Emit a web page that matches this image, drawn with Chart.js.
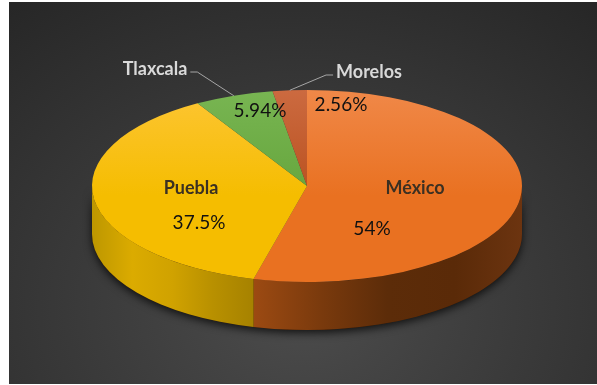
<!DOCTYPE html>
<html>
<head>
<meta charset="utf-8">
<script src="https://cdn.jsdelivr.net/npm/chart.js@4.4.0/dist/chart.umd.min.js"></script>
<style>
  html, body { margin: 0; padding: 0; background: #fff; }
  #panel {
    position: absolute; left: 9px; top: 2px; width: 588px; height: 382px;
    background: radial-gradient(ellipse 80% 100% at 50% 80%, #4c4c4c 0%, #3b3b3b 45%, #272727 100%);
  }
  #wrap { position: absolute; left: 0; top: 0; width: 597px; height: 385px; }
</style>
</head>
<body>
<div id="panel"></div>
<div id="wrap"><canvas id="estadosPie" width="597" height="385"></canvas></div>
<script>
const estados = ['México', 'Puebla', 'Tlaxcala', 'Morelos'];
const porcentajes = [54, 37.5, 5.94, 2.56];

// colores de la cara superior (claro arriba, base abajo)
const coloresClaros = ['#f08848', '#fdc534', '#78b552', '#cc6a40'];
const coloresBase = ['#e97121', '#f5bd00', '#66a63d', '#b9511f'];
// colores del costado, de izquierda a derecha
const costados = [
    ['#9c4a12', '#7a3a0d', '#5c2c09', '#5a2a08', '#6c3410'],
    ['#bd9700', '#dbab00', '#d0a200', '#b89000', '#a68200']
];

const RADIO = 215;
const ESCALA_Y = 96 / 215;
const PROFUNDIDAD = 48;

function geometria(chart) {
    const arc = chart.getDatasetMeta(0).data[0];
    return { cx: arc.x, cy: arc.y, rx: arc.outerRadius, ry: arc.outerRadius * ESCALA_Y };
}

const pie3d = {
    id: 'pie3d',
    beforeDatasetsDraw(chart) {
        const ctx = chart.ctx;
        const meta = chart.getDatasetMeta(0);
        const { cx, cy, rx, ry } = geometria(chart);
        const D = PROFUNDIDAD;

        const pared = (a1, a2) => {
            ctx.beginPath();
            ctx.ellipse(cx, cy, rx, ry, 0, a1, a2);
            ctx.lineTo(cx + rx * Math.cos(a2), cy + ry * Math.sin(a2) + D);
            ctx.ellipse(cx, cy + D, rx, ry, 0, a2, a1, true);
            ctx.closePath();
        };

        // sombra bajo el pastel
        ctx.save();
        ctx.shadowColor = 'rgba(0,0,0,0.75)';
        ctx.shadowBlur = 8;
        ctx.shadowOffsetY = 3;
        ctx.fillStyle = '#3a1c06';
        pared(0, Math.PI);
        ctx.fill();
        ctx.restore();

        // costado visible de cada rebanada
        meta.data.forEach((arc, i) => {
            const a1 = Math.max(arc.startAngle, 0);
            const a2 = Math.min(arc.endAngle, Math.PI);
            if (a2 <= a1) return;
            const x1 = cx + rx * Math.cos(a2);
            const x2 = cx + rx * Math.cos(a1);
            const g = ctx.createLinearGradient(x1, 0, x2, 0);
            const stops = costados[i] || [coloresBase[i], coloresBase[i]];
            stops.forEach((c, k) => g.addColorStop(k / (stops.length - 1), c));
            ctx.fillStyle = g;
            pared(a1, a2);
            ctx.fill();
        });

        // cara superior aplastada en elipse
        ctx.save();
        ctx.translate(0, cy);
        ctx.scale(1, ESCALA_Y);
        ctx.translate(0, -cy);
    },
    afterDatasetsDraw(chart) {
        const ctx = chart.ctx;
        ctx.restore();

        const meta = chart.getDatasetMeta(0);
        const { cx, cy, rx, ry } = geometria(chart);
        const borde = (arc) => {
            const a = (arc.startAngle + arc.endAngle) / 2;
            return [cx + rx * Math.cos(a), cy + ry * Math.sin(a)];
        };

        // posiciones de las etiquetas respecto al centro
        const posiciones = [
            { nombre: [108, 2], valor: [65, 43], dentro: true },
            { nombre: [-116, 2], valor: [-108, 37], dentro: true },
            { nombre: [-152, -117], valor: [-47, -75], dentro: false },
            { nombre: [62, -114], valor: [34, -81], dentro: false }
        ];

        ctx.save();
        ctx.textAlign = 'center';
        ctx.textBaseline = 'middle';
        estados.forEach((estado, i) => {
            const p = posiciones[i];
            const nx = cx + p.nombre[0], ny = cy + p.nombre[1];
            ctx.font = 'bold 18px Lato';
            ctx.fillStyle = p.dentro ? '#3b3022' : '#d9d9d9';
            ctx.fillText(estado, nx, ny);

            if (!p.dentro) {
                const w = ctx.measureText(estado).width / 2;
                const [ex, ey] = borde(meta.data[i]);
                const lado = ex > nx ? 1 : -1;
                const sx = nx + lado * (w + 3);
                ctx.strokeStyle = '#a6a6a6';
                ctx.lineWidth = 1;
                ctx.beginPath();
                ctx.moveTo(sx, ny + 3);
                ctx.lineTo(sx + lado * 7, ny + 3);
                ctx.lineTo(ex, ey);
                ctx.stroke();
            }

            ctx.font = '19px Lato';
            ctx.fillStyle = '#111';
            ctx.fillText(porcentajes[i] + '%', cx + p.valor[0], cy + p.valor[1]);
        });
        ctx.restore();
    }
};

const ctxEstados = document.getElementById('estadosPie').getContext('2d');
new Chart(ctxEstados, {
    type: 'pie',
    data: {
        labels: estados,
        datasets: [{
            data: porcentajes,
            radius: RADIO,
            borderWidth: 0,
            backgroundColor: (c) => {
                const area = c.chart.chartArea;
                const i = c.dataIndex;
                if (!area) return coloresBase[i];
                const cy = (area.top + area.bottom) / 2;
                const g = c.chart.ctx.createLinearGradient(0, cy - RADIO, 0, cy + RADIO);
                g.addColorStop(0, coloresClaros[i]);
                g.addColorStop(0.55, coloresBase[i]);
                g.addColorStop(1, coloresBase[i]);
                return g;
            }
        }]
    },
    options: {
        responsive: false,
        animation: false,
        events: [],
        layout: { padding: { left: 17, right: 0, top: 0, bottom: 13 } },
        plugins: {
            legend: { display: false },
            tooltip: { enabled: false }
        }
    },
    plugins: [pie3d]
});
</script>
</body>
</html>
